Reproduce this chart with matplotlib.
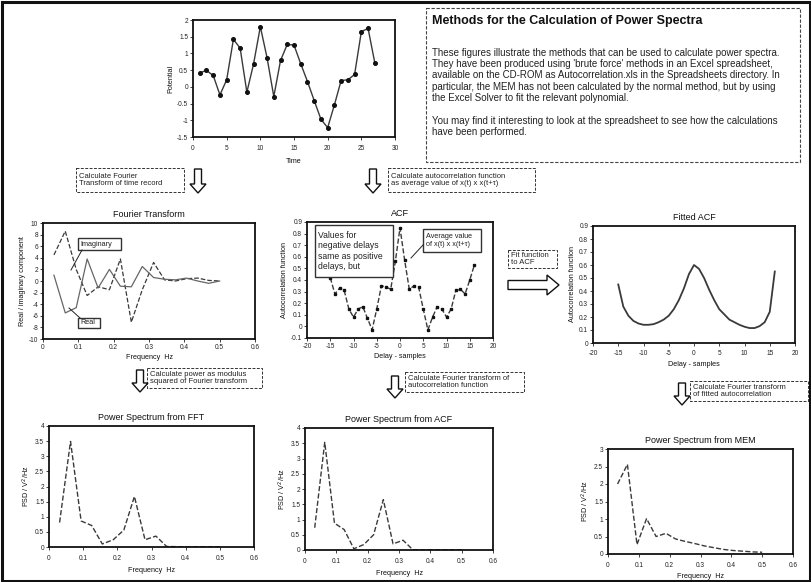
import matplotlib
matplotlib.use("Agg")
import matplotlib.pyplot as plt
from matplotlib.patches import Polygon, Rectangle
from matplotlib.ticker import FuncFormatter, MultipleLocator

plt.rcParams['font.family'] = ['Liberation Sans', 'DejaVu Sans']

W, H = 811, 582

# ---------------- data ----------------
time = list(range(1, 28))
potential = [0.42, 0.49, 0.34, -0.24, 0.21, 1.42, 1.16, -0.16, 0.69, 1.80, 0.87, -0.29,
             0.79, 1.27, 1.25, 0.69, 0.16, -0.41, -0.97, -1.22, -0.54, 0.19, 0.21, 0.37,
             1.65, 1.75, 0.72]

freq = [0.031, 0.063, 0.094, 0.125, 0.156, 0.188, 0.219, 0.250, 0.281, 0.313, 0.344,
        0.375, 0.406, 0.438, 0.469, 0.500]
fft_real = [1.0, -5.5, -4.6, 3.8, -1.2, 2.0, -0.9, -1.0, 2.5, 0.6, 0.3, 0.2, 0.5, 0.0, -0.4, 0.0]
fft_imag = [4.5, 8.6, 2.0, -2.5, -1.0, -1.5, 3.8, -7.1, -1.5, 3.2, 0.2, 0.0, 0.4, 0.5, 0.1, 0.0]

lags = list(range(-15, 17))
acf = [0.42, 0.28, 0.33, 0.31, 0.15, 0.08, 0.15, 0.17, 0.07, -0.03, 0.15, 0.35, 0.34, 0.32,
       0.56, 0.85, 0.57, 0.32, 0.35, 0.34, 0.15, -0.03, 0.08, 0.17, 0.15, 0.08, 0.15, 0.31,
       0.32, 0.28, 0.40, 0.53]
acf_fit = [0.45, 0.28, 0.21, 0.17, 0.15, 0.14, 0.14, 0.145, 0.16, 0.18, 0.21, 0.26, 0.33,
           0.42, 0.53, 0.60, 0.57, 0.50, 0.41, 0.33, 0.26, 0.22, 0.18, 0.16, 0.14, 0.125,
           0.115, 0.115, 0.13, 0.16, 0.24, 0.55]

psd_fft = [0.81, 3.49, 0.86, 0.71, 0.10, 0.24, 0.56, 1.67, 0.24, 0.36, 0.02, 0.01, 0.01,
           0.01, 0.01, 0.01]
psd_acf = [0.73, 3.53, 0.88, 0.67, 0.04, 0.18, 0.50, 1.65, 0.20, 0.32, 0.01, 0.01, 0.01,
           0.01, 0.01, 0.01]
psd_mem = [2.00, 2.56, 0.27, 1.01, 0.50, 0.59, 0.43, 0.36, 0.30, 0.23, 0.18, 0.13, 0.10,
           0.08, 0.06, 0.05]

title_text = "Methods for the Calculation of Power Spectra"
para1 = ("These figures illustrate the methods that can be used to calculate power spectra.\n"
         "They have been produced using 'brute force' methods in an Excel spreadsheet,\n"
         "available on the CD-ROM as Autocorrelation.xls in the Spreadsheets directory. In\n"
         "particular, the MEM has not been calculated by the normal method, but by using\n"
         "the Excel Solver to fit the relevant polynomial.")
para2 = ("You may find it interesting to look at the spreadsheet to see how the calculations\n"
         "have been performed.")

# ---------------- figure ----------------
fig = plt.figure(figsize=(W / 100, H / 100), dpi=100)
fig.patch.set_facecolor('white')

LC = '#3a3a3a'


def fmt_func(v, p):
    v = round(v, 3)
    if abs(v) < 1e-9:
        v = 0.0
    return '%g' % v


fmt = FuncFormatter(fmt_func)


def px_axes(x0, y0, x1, y1):
    return fig.add_axes([x0 / W, 1 - y1 / H, (x1 - x0) / W, (y1 - y0) / H])


def style(ax, xlim, xstep, ylim, ystep, xlabel=None, ylabel=None, title=None,
          xpad=1.5, xlpad=2.5, tpad=4):
    ax.set_xlim(*xlim)
    ax.set_ylim(*ylim)
    ax.xaxis.set_major_locator(MultipleLocator(xstep))
    ax.yaxis.set_major_locator(MultipleLocator(ystep))
    ax.xaxis.set_major_formatter(fmt)
    ax.yaxis.set_major_formatter(fmt)
    ax.tick_params(labelsize=4.7, length=2, width=0.6, pad=1.5, colors='#222')
    ax.tick_params(axis='x', pad=xpad)
    for s in ax.spines.values():
        s.set_linewidth(1.3)
        s.set_color('#111')
    if xlabel:
        ax.set_xlabel(xlabel, fontsize=5.2, labelpad=xlpad, color='#111')
    if ylabel:
        ax.set_ylabel(ylabel, fontsize=5.2, labelpad=2, color='#111')
    if title:
        ax.set_title(title, fontsize=6.5, pad=tpad, color='#111')


# top: time record
ax_t = px_axes(193, 20, 395, 137)
ax_t.plot(time, potential, color=LC, lw=1.0, marker='o', ms=2.6, mfc='#111', mec='#111')
style(ax_t, (0, 30), 5, (-1.5, 2), 0.5, xlabel='Time', ylabel='Potential', xpad=4, xlpad=4)

# Fourier transform
ax_f = px_axes(43, 223, 255, 339)
ax_f.plot(freq, fft_imag, color=LC, lw=0.9, ls='--')
ax_f.plot(freq, fft_real, color='#666', lw=0.9, ls='-')
style(ax_f, (0, 0.6), 0.1, (-10, 10), 2, xlabel='Frequency  Hz',
      ylabel='Real / imaginary component', title='Fourier Transform')

# ACF
ax_a = px_axes(307, 222, 493, 338)
ax_a.plot(lags, acf, color=LC, lw=1.0, ls='--', marker='s', ms=1.6, mfc='#111', mec='#111')
style(ax_a, (-20, 20), 5, (-0.1, 0.9), 0.1, xlabel='Delay - samples',
      ylabel='Autocorrelation function', title='ACF')

# Fitted ACF
ax_fa = px_axes(593, 226, 795, 343)
ax_fa.plot(lags, acf_fit, color=LC, lw=1.3)
style(ax_fa, (-20, 20), 5, (0, 0.9), 0.1, xlabel='Delay - samples',
      ylabel='Autocorrelation function', title='Fitted ACF', xpad=3, xlpad=3)

# PSD from FFT
ax_p1 = px_axes(49, 426, 254, 547)
ax_p1.plot(freq, psd_fft, color=LC, lw=1.0, ls='--')
style(ax_p1, (0, 0.6), 0.1, (0, 4), 0.5, xlabel='Frequency  Hz',
      ylabel='PSD / V$^2$/Hz', title='Power Spectrum from FFT', xpad=4, xlpad=3.5)

# PSD from ACF
ax_p2 = px_axes(305, 428, 493, 550)
ax_p2.plot(freq, psd_acf, color=LC, lw=1.0, ls='--')
style(ax_p2, (0, 0.6), 0.1, (0, 4), 0.5, xlabel='Frequency  Hz',
      ylabel='PSD / V$^2$/Hz', title='Power Spectrum from ACF', xpad=4, xlpad=3.5)

# PSD from MEM
ax_p3 = px_axes(608, 449, 793, 554)
ax_p3.plot(freq, psd_mem, color=LC, lw=1.0, ls='--')
style(ax_p3, (0, 0.6), 0.1, (0, 3), 0.5, xlabel='Frequency  Hz',
      ylabel='PSD / V$^2$/Hz', title='Power Spectrum from MEM', xpad=4, xlpad=3)

# ---------------- overlay (pixel coordinates) ----------------
ov = fig.add_axes([0, 0, 1, 1], zorder=20)
ov.set_xlim(0, W)
ov.set_ylim(H, 0)
ov.axis('off')
ov.patch.set_alpha(0)


def box(x0, y0, x1, y1, text, fs=5.5, lw=0.7, dashed=True, pad=3):
    r = Rectangle((x0, y0), x1 - x0, y1 - y0, facecolor='white', edgecolor='#333',
                  lw=lw, ls=(0, (3, 1.5)) if dashed else '-')
    ov.add_patch(r)
    ov.text(x0 + pad, (y0 + y1) / 2, text, fontsize=fs, va='center', ha='left',
            color='#222', linespacing=1.15)


def down_arrow(cx, y0, y1):
    sw, hw, hh = 3.5, 8, 9
    pts = [(cx - sw, y0), (cx + sw, y0), (cx + sw, y1 - hh), (cx + hw, y1 - hh), (cx, y1),
           (cx - hw, y1 - hh), (cx - sw, y1 - hh)]
    ov.add_patch(Polygon(pts, closed=True, facecolor='white', edgecolor='#111', lw=1.0))


def right_arrow(x0, x1, cy):
    sh, hh, hl = 4.5, 10, 12
    pts = [(x0, cy - sh), (x1 - hl, cy - sh), (x1 - hl, cy - hh), (x1, cy), (x1 - hl, cy + hh),
           (x1 - hl, cy + sh), (x0, cy + sh)]
    ov.add_patch(Polygon(pts, closed=True, facecolor='white', edgecolor='#111', lw=1.0))


# outer border
ov.add_patch(Rectangle((1.5, 1.5), W - 3, H - 3, fill=False, edgecolor='#111', lw=2.2))

# title box
ov.add_patch(Rectangle((426, 8), 374, 154, facecolor='white', edgecolor='#444', lw=0.8,
                       ls=(0, (3, 1.5))))
ov.text(432, 21, title_text, fontsize=9.0, fontweight='bold', va='center', ha='left',
        color='#111')
ov.text(432, 47.5, para1, fontsize=7.0, va='top', ha='left', color='#222', linespacing=1.18)
ov.text(432, 115.5, para2, fontsize=7.0, va='top', ha='left', color='#222', linespacing=1.18)

# flow boxes and arrows
box(76, 168, 184, 192, "Calculate Fourier\nTransform of time record")
down_arrow(198, 169, 193)
down_arrow(373, 169, 193)
box(388, 168, 535, 192, "Calculate autocorrelation function\nas average value of x(t) x x(t+\u03c4)")

box(147, 368, 262, 388, "Calculate power as modulus\nsquared of Fourier transform")
down_arrow(140, 370, 392)
box(405, 372, 524, 392, "Calculate Fourier transform of\nautocorrelation function")
down_arrow(395, 376, 398)
box(690, 381, 808, 401, "Calculate Fourier transform\nof fitted autocorrelation")
down_arrow(682, 383, 405)

box(508, 250, 557, 268, "Fit function\nto ACF")
right_arrow(508, 559, 285)

# ACF annotations
box(315, 225, 393, 277, "Values for\nnegative delays\nsame as positive\ndelays, but", fs=6.2,
    lw=1.0, dashed=False)
box(423, 229, 481, 252, "Average value\nof x(t) x x(t+\u03c4)", fs=5.2, lw=1.0, dashed=False)
ov.plot([423, 411], [245, 258], color='#222', lw=0.7)

# FFT annotations
box(78, 238, 121, 250, "Imaginary", fs=5.2, lw=1.0, dashed=False, pad=2)
ov.plot([82, 71], [250, 270], color='#222', lw=0.7)
box(78, 318, 100, 328, "Real", fs=5.2, lw=1.0, dashed=False, pad=2)
ov.plot([80, 69], [318, 308], color='#222', lw=0.7)

fig.savefig('out.png', dpi=100, facecolor='white')
